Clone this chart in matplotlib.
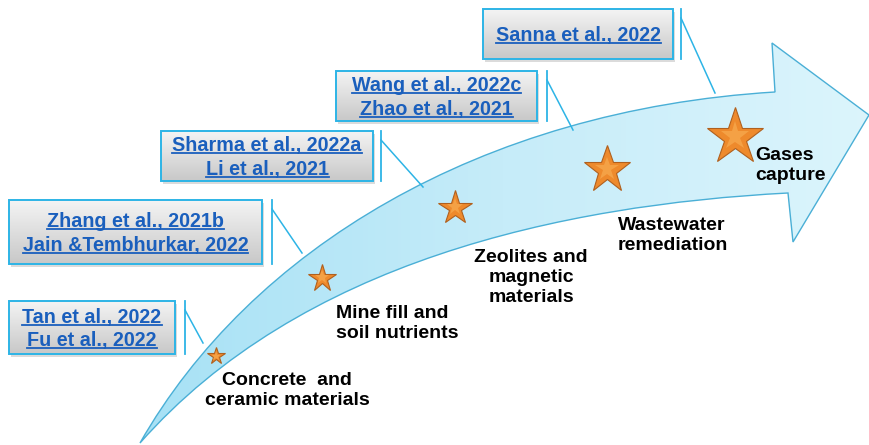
import numpy as np
import matplotlib
matplotlib.use("Agg")
import matplotlib.pyplot as plt
from matplotlib.path import Path
from matplotlib.patches import PathPatch, Rectangle
from matplotlib.colors import LinearSegmentedColormap

plt.rcParams['font.family'] = ['Liberation Sans', 'DejaVu Sans']

# textos
ref_lines = [
    ["Tan et al., 2022", "Fu et al., 2022"],
    ["Zhang et al., 2021b", "Jain &Tembhurkar, 2022"],
    ["Sharma et al., 2022a", "Li et al., 2021"],
    ["Wang et al., 2022c", "Zhao et al., 2021"],
    ["Sanna et al., 2022"],
]
stage_lines = [
    ["Concrete  and", "ceramic materials"],
    ["Mine fill and", "soil nutrients"],
    ["Zeolites and", "magnetic", "materials"],
    ["Wastewater", "remediation"],
    ["Gases", "capture"],
]

# layout (pixels)
box_rects = [(9, 301, 175, 354), (9, 200, 262, 264), (161, 131, 373, 181),
             (336, 71, 537, 121), (483, 9, 673, 59)]
bar_x = [185, 272, 381, 547, 681]
tips = [(203, 343), (302, 253), (423, 187), (573, 130), (715, 93)]

star_x = [216, 322, 455, 607, 735]
star_y = [356, 278, 208, 170, 137]
star_ms = [13, 20.5, 25.5, 35.5, 43]

stage_anchor = [(287, 385, "center"), (336, 318, "left"), (531, 262, "center"),
                (618, 230, "left"), (755, 160, "left")]

BLUE_TXT = "#1a5fbd"
CYAN = "#2db4e6"
ORANGE = "#ee8a2c"

fig = plt.figure(figsize=(8.69, 4.45), dpi=100)
ax = fig.add_axes([0, 0, 1, 1])
ax.axis("off")

# seta curva
verts = [(140, 443),
         (250, 250), (480, 110), (775, 92),
         (772, 43), (869, 115), (793, 242), (788, 193),
         (560, 205), (300, 262), (140, 443),
         (140, 443)]
codes = [Path.MOVETO,
         Path.CURVE4, Path.CURVE4, Path.CURVE4,
         Path.LINETO, Path.LINETO, Path.LINETO, Path.LINETO,
         Path.CURVE4, Path.CURVE4, Path.CURVE4,
         Path.CLOSEPOLY]
arrow = PathPatch(Path(verts, codes), facecolor="none", edgecolor="#4aafd6",
                  lw=1.0, zorder=3)
ax.add_patch(arrow)
cm_arrow = LinearSegmentedColormap.from_list("arr", ["#a6e1f5", "#c6ecf9", "#dcf5fc"])
grad = np.linspace(0, 1, 256).reshape(1, -1)
im = ax.imshow(grad, cmap=cm_arrow, extent=(130, 875, 450, 30), aspect="auto", zorder=2)
im.set_clip_path(arrow)

# estrelas (com brilho no centro)
for sx, sy, ms in zip(star_x, star_y, star_ms):
    ax.plot(sx, sy, marker="*", ms=ms, color=ORANGE, markeredgecolor="#b0601e",
            markeredgewidth=0.8, zorder=5)
    ax.plot(sx, sy - ms * 0.03, marker="*", ms=ms * 0.5, color="#f6a84c",
            markeredgewidth=0, alpha=0.8, zorder=5)

# caixas de referencia
cm_box = LinearSegmentedColormap.from_list("box", ["#f4f4f4", "#c8c8c8"])
vgrad = np.linspace(0, 1, 128).reshape(-1, 1)
texts = []
for (x0, y0, x1, y1), lines, bx, tip in zip(box_rects, ref_lines, bar_x, tips):
    ax.add_patch(Rectangle((x0 + 2, y0 + 3), x1 - x0, y1 - y0, facecolor="#999999",
                           alpha=0.35, edgecolor="none", zorder=3))
    ax.imshow(vgrad, cmap=cm_box, extent=(x0, x1, y1, y0), aspect="auto", zorder=4)
    ax.add_patch(Rectangle((x0, y0), x1 - x0, y1 - y0, facecolor="none",
                           edgecolor=CYAN, lw=1.4, zorder=5))
    ax.plot([bx, bx], [y0, y1], color=CYAN, lw=1.3, zorder=5)
    ax.plot([bx, tip[0]], [y0 + 9, tip[1]], color=CYAN, lw=1.1, zorder=5)
    cx, cy = (x0 + x1) / 2, (y0 + y1) / 2
    n = len(lines)
    for i, s in enumerate(lines):
        base = cy + (i - (n - 1) / 2) * 23.5 + 7
        t = ax.text(cx, base, s, ha="center", va="baseline", fontsize=14.2,
                    fontweight="bold", color=BLUE_TXT, zorder=6)
        texts.append((t, base))

# rotulos das etapas
for lines, (ax_x, ax_y, ha) in zip(stage_lines, stage_anchor):
    for i, s in enumerate(lines):
        ax.text(ax_x, ax_y + i * 20, s, ha=ha, va="baseline", fontsize=14,
                fontweight="bold", color="black", zorder=6)

ax.set_xlim(0, 869)
ax.set_ylim(445, 0)

# sublinhado
fig.canvas.draw()
r = fig.canvas.get_renderer()
inv = ax.transData.inverted()
for t, base in texts:
    bb = t.get_window_extent(r)
    xa = inv.transform((bb.x0, 0))[0]
    xb = inv.transform((bb.x1, 0))[0]
    ax.plot([xa, xb], [base + 2.2, base + 2.2], color=BLUE_TXT, lw=1.3, zorder=6)

ax.set_xlim(0, 869)
ax.set_ylim(445, 0)
fig.savefig("out.png", dpi=100, facecolor="white")
